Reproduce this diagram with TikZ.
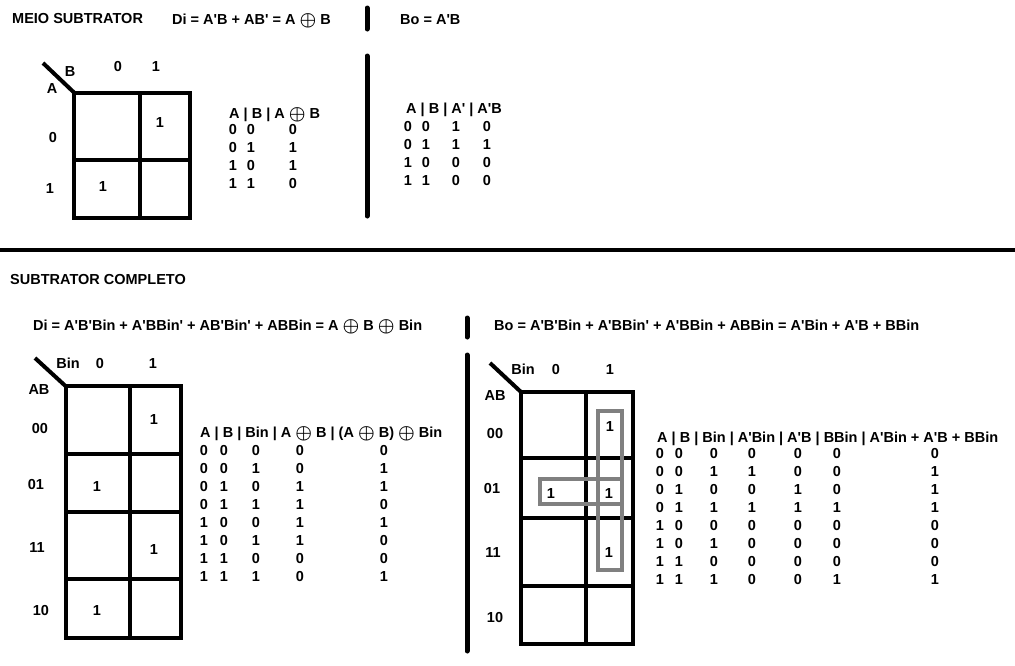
\documentclass[tikz,border=0pt]{standalone}
\usepackage{fontspec}
\setmainfont{Liberation Sans}[Ligatures=TeXOff]
\usepackage{graphicx}
\usepackage{tikz}
\newcommand{\oplusb}{\raisebox{-1pt}{\scalebox{1.3}{\boldmath$\oplus$}}}

\begin{document}
\begin{tikzpicture}[x=1pt,y=-1pt,
   font=\bfseries\fontsize{14.5}{17}\selectfont,
   every node/.style={inner sep=0pt,text height=10.4pt,text depth=0pt},
   kgrid/.style={line width=4pt},
   bar/.style={line width=5pt,line cap=round},
   loopbox/.style={draw=gray,line width=3.5pt},
   txt/.style={anchor=base west}]
\useasboundingbox (0,0) rectangle (1015,665);

% meio subtrator
\node[txt] (meio) at (12,23) {MEIO SUBTRATOR};
\node[txt] (diMeio) at (172,24) {Di = A'B + AB' = A \oplusb{} B};
\node[txt] (boMeio) at (400,24) {Bo = A'B};
\draw[bar] (367,8) -- (367,29);
\draw[bar] (367,56) -- (367,216);

\draw[kgrid] (43,63) -- (74,92.5);
\draw[kgrid] (74,92.5) rectangle (189.5,217.5);
\draw[kgrid] (140,92.5) -- (140,217.5);
\draw[kgrid] (74,159.5) -- (189.5,159.5);
\node (mB) at (70,71) {B};
\node (mA) at (52,88) {A};
\node (mc0) at (118,66) {0};
\node (mc1) at (156,66) {1};
\node (mr0) at (53,137) {0};
\node (mr1) at (50,188) {1};
\node (m01) at (160,122) {1};
\node (m10) at (103,186) {1};

\node[txt] (t1) at (229,118) {A | B | A \oplusb{} B};
\foreach \x/\col in {233/{0,0,1,1},251/{0,1,0,1},293/{0,1,1,0}}
  \foreach \v [count=\i] in \col
    \node (t1-\x-\i) at (\x,111+18*\i) {\v};

\node[txt] (t2) at (406,113) {A | B | A' | A'B};
\foreach \x/\col in {408/{0,0,1,1},426/{0,1,0,1},456/{1,1,0,0},487/{0,1,0,0}}
  \foreach \v [count=\i] in \col
    \node (t2-\x-\i) at (\x,108+18*\i) {\v};

\draw[kgrid] (0,250) -- (1015,250);

% subtrator completo
\node[txt] (comp) at (10,284) {SUBTRATOR COMPLETO};
\node[txt] (diComp) at (33,330) {Di = A'B'Bin + A'BBin' + AB'Bin' + ABBin = A \oplusb{} B \oplusb{} Bin};
\node[txt] (boComp) at (494,330) {Bo = A'B'Bin + A'BBin' + A'BBin + ABBin = A'Bin + A'B + BBin};
\draw[bar] (467,318) -- (467,337);
\draw[bar] (467,355) -- (467,651);

\draw[kgrid] (35,358) -- (65.5,386);
\draw[kgrid] (65.5,386) rectangle (180.5,638);
\draw[kgrid] (130,386) -- (130,638);
\draw[kgrid] (65.5,454) -- (180.5,454);
\draw[kgrid] (65.5,512) -- (180.5,512);
\draw[kgrid] (65.5,579) -- (180.5,579);
\node (dBin) at (68,363) {Bin};
\node (dc0) at (100,363) {0};
\node (dc1) at (153,363) {1};
\node (dAB) at (39,389) {AB};
\node (dr00) at (40,428) {00};
\node (dr01) at (36,484) {01};
\node (dr11) at (37,547) {11};
\node (dr10) at (41,610) {10};
\node (d001) at (154,419) {1};
\node (d010) at (97,486) {1};
\node (d111) at (154,549) {1};
\node (d100) at (97,610) {1};

\node[txt] (t3) at (200,437) {A | B | Bin | A \oplusb{} B | (A \oplusb{} B) \oplusb{} Bin};
\foreach \x/\col in {204/{0,0,0,0,1,1,1,1},224/{0,0,1,1,0,0,1,1},256/{0,1,0,1,0,1,0,1},
    300/{0,0,1,1,1,1,0,0},384/{0,1,1,0,1,0,0,1}}
  \foreach \v [count=\i] in \col
    \node (t3-\x-\i) at (\x,432+18*\i) {\v};

\draw[kgrid] (490,363) -- (521,392);
\draw[kgrid] (521,392) rectangle (633,644);
\draw[kgrid] (586,392) -- (586,644);
\draw[kgrid] (521,458) -- (633,458);
\draw[kgrid] (521,518) -- (633,518);
\draw[kgrid] (521,586) -- (633,586);
\node (bBin) at (523,369) {Bin};
\node (bc0) at (556,369) {0};
\node (bc1) at (610,369) {1};
\node (bAB) at (495,395) {AB};
\node (br00) at (495,433) {00};
\node (br01) at (492,488) {01};
\node (br11) at (493,552) {11};
\node (br10) at (495,617) {10};
\node (b001) at (610,426) {1};
\node (b010) at (551,493) {1};
\node (b011) at (609,493) {1};
\node (b111) at (609,552) {1};
\draw[loopbox] (598,411) rectangle (622,570);
\draw[loopbox] (540,479) rectangle (622,504);

\node[txt] (t4) at (657,442) {A | B | Bin | A'Bin | A'B | BBin | A'Bin + A'B + BBin};
\foreach \x/\col in {660/{0,0,0,0,1,1,1,1},679/{0,0,1,1,0,0,1,1},714/{0,1,0,1,0,1,0,1},
    752/{0,1,0,1,0,0,0,0},798/{0,0,1,1,0,0,0,0},837/{0,0,0,1,0,0,0,1},935/{0,1,1,1,0,0,0,1}}
  \foreach \v [count=\i] in \col
    \node (t4-\x-\i) at (\x,435+18*\i) {\v};
\end{tikzpicture}
\end{document}
